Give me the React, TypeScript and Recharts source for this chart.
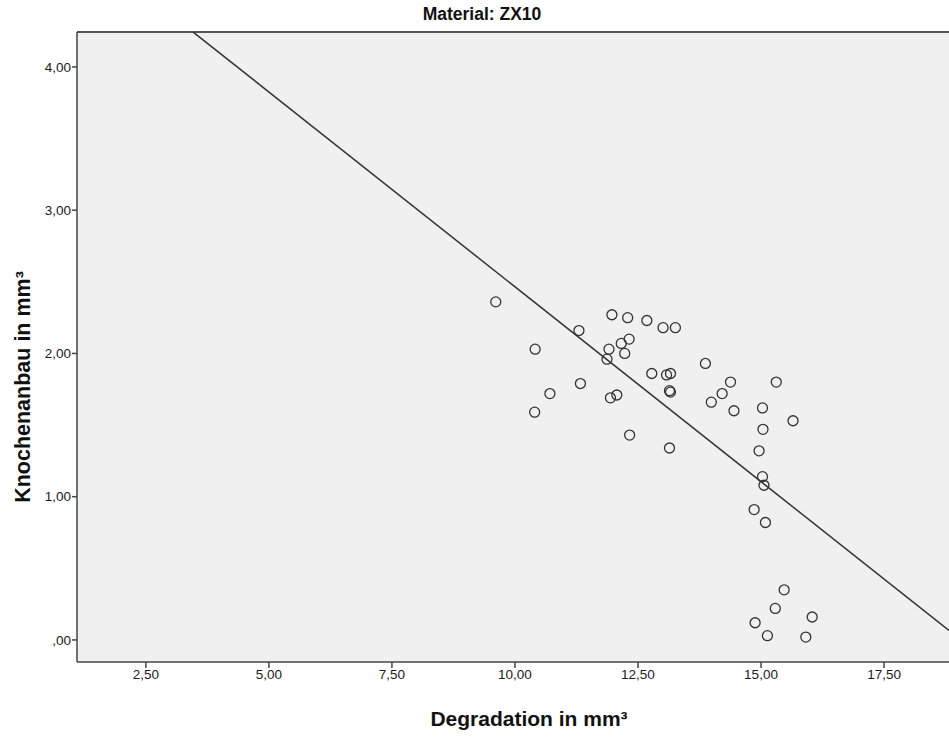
import React from "react";
import { ScatterChart, Scatter, XAxis, YAxis, CartesianGrid, ReferenceLine } from "recharts";

const degradation = [
  9.61, 10.41, 10.4, 10.71, 11.3, 11.33, 11.97, 12.29, 12.68, 13.01, 13.26,
  12.32, 12.16, 11.91, 12.23, 11.87, 12.78, 13.08, 13.16, 13.14, 13.16, 13.87,
  11.94, 12.07, 12.33, 13.14, 14.38, 15.31, 14.21, 13.99, 14.45, 15.03, 15.65,
  15.04, 14.96, 15.03, 15.06, 14.86, 15.09, 15.47, 15.29, 16.04, 14.88, 15.13, 15.91,
];
const knochenanbau = [
  2.36, 2.03, 1.59, 1.72, 2.16, 1.79, 2.27, 2.25, 2.23, 2.18, 2.18,
  2.1, 2.07, 2.03, 2.0, 1.96, 1.86, 1.85, 1.86, 1.74, 1.73, 1.93,
  1.69, 1.71, 1.43, 1.34, 1.8, 1.8, 1.72, 1.66, 1.6, 1.62, 1.53,
  1.47, 1.32, 1.14, 1.08, 0.91, 0.82, 0.35, 0.22, 0.16, 0.12, 0.03, 0.02,
];
const xTicks = [2.5, 5, 7.5, 10, 12.5, 15, 17.5];
const yTicks = [0, 1, 2, 3, 4];
const xDomain = [1.1, 18.82];
const yDomain = [-0.154, 4.244];
const fitIntercept = 5.185;
const fitSlope = -0.272;

const points = degradation.map((x, i) => ({ x, y: knochenanbau[i] }));

// regression line endpoints clipped to the plot domain
const fitAt = (x: number) => fitIntercept + fitSlope * x;
const xStart = Math.max(xDomain[0], (yDomain[1] - fitIntercept) / fitSlope) + 0.001;
const xEnd = Math.min(xDomain[1], (yDomain[0] - fitIntercept) / fitSlope) - 0.001;
const fitSegment = [
  { x: xStart, y: fitAt(xStart) },
  { x: xEnd, y: fitAt(xEnd) },
];

const fmt = (v: number) => {
  const s = v.toFixed(2).replace(".", ",");
  return s.startsWith("0,") ? s.slice(1) : s;
};

const Circle = (props: any) => (
  <circle cx={props.cx} cy={props.cy} r={5} fill="none" stroke="#333" strokeWidth={1.3} />
);

const FONT = "'Liberation Sans', Arial, sans-serif";

export default function App() {
  return (
    <div style={{ position: "absolute", left: 0, top: 0, width: 949, height: 749, background: "#fff" }}>
      <ScatterChart width={949} height={749} margin={{ top: 32, right: 0, bottom: 0, left: 0 }}>
        <CartesianGrid fill="#f0f0f0" horizontal={false} vertical={false} />
        <XAxis
          type="number"
          dataKey="x"
          domain={xDomain}
          ticks={xTicks}
          allowDataOverflow
          tickFormatter={fmt}
          height={87}
          tickSize={6}
          tickMargin={1}
          stroke="#444"
          strokeWidth={1.5}
          tick={{ fill: "#1a1a1a", fontSize: 13.5, fontFamily: FONT }}
        />
        <YAxis
          type="number"
          dataKey="y"
          domain={yDomain}
          ticks={yTicks}
          allowDataOverflow
          tickFormatter={fmt}
          width={77}
          tickSize={5}
          tickMargin={1}
          stroke="#444"
          strokeWidth={1.5}
          tick={{ fill: "#1a1a1a", fontSize: 13.5, fontFamily: FONT }}
        />
        <ReferenceLine y={yDomain[1]} stroke="#555" strokeWidth={2} />
        <ReferenceLine segment={fitSegment} stroke="#333" strokeWidth={1.5} />
        <Scatter data={points} shape={Circle} isAnimationActive={false} />
      </ScatterChart>
      <svg
        width={949}
        height={749}
        style={{ position: "absolute", left: 0, top: 0, pointerEvents: "none" }}
      >
        <text x={482} y={20} textAnchor="middle" fontFamily={FONT} fontWeight="bold" fontSize={17.5} fill="#111">
          Material: ZX10
        </text>
        <text x={529} y={726} textAnchor="middle" fontFamily={FONT} fontWeight="bold" fontSize={21} fill="#111">
          Degradation in mm³
        </text>
        <text
          x={30}
          y={387}
          textAnchor="middle"
          transform="rotate(-90 30 387)"
          fontFamily={FONT}
          fontWeight="bold"
          fontSize={21.5}
          fill="#111"
        >
          Knochenanbau in mm³
        </text>
      </svg>
    </div>
  );
}
